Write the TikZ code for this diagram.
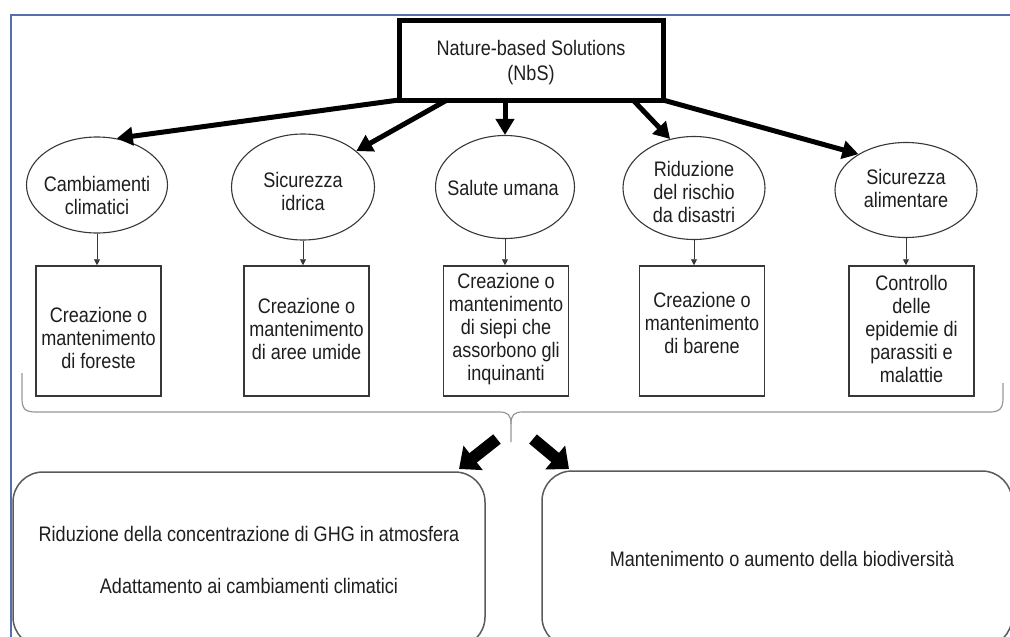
\documentclass[tikz,border=0pt]{standalone}
\usepackage{fontspec}
\setmainfont{Liberation Sans}[FakeStretch=0.86]
\usetikzlibrary{arrows.meta,shapes.geometric}

\definecolor{frameblue}{RGB}{84,110,176}
\definecolor{inkgray}{RGB}{55,55,55}
\definecolor{boxgray}{RGB}{90,90,90}
\definecolor{bracegray}{RGB}{150,150,150}
\definecolor{txtcol}{RGB}{30,30,30}

\begin{document}
\begin{tikzpicture}[x=1pt,y=-1pt,
  every node/.style={font=\fontsize{21}{23}\selectfont, text=txtcol},
  rootbox/.style={draw=black, line width=5pt, minimum width=264pt, minimum height=80pt,
    align=center, inner sep=0pt, outer sep=0pt},
  topic/.style={ellipse, draw=inkgray, line width=1.1pt, minimum width=141pt,
    minimum height=100pt, inner sep=0pt},
  actionbox/.style={draw=inkgray, line width=1.5pt, minimum width=125pt,
    minimum height=130pt, inner sep=0pt},
  caption/.style={align=center, inner sep=0pt},
  outcome/.style={draw=boxgray, line width=1.5pt, rounded corners=30pt,
    align=center, inner sep=0pt},
  bigarrow/.style={draw=black, line width=5pt, -{Triangle[width=18pt,length=16pt]}},
  smallarrow/.style={draw=inkgray, line width=0.9pt, -{Triangle[width=6pt,length=6pt]}},
  blockarrow/.style={draw=black, line width=12pt, -{Triangle[width=30pt,length=18pt]}}
]
\useasboundingbox (0,0) rectangle (1010,637);

% root node
\node[rootbox] (root) at (531,60) {};
\node[caption] (roott) at (531,63) {Nature-based Solutions\\[2pt](NbS)};

% benefit areas
\node[topic, minimum height=96pt] (e1) at (97,185) {};
\node[topic, minimum width=143pt, minimum height=106pt] (e2) at (303,187) {};
\node[topic, minimum width=139pt, minimum height=103pt] (e3) at (505,187) {};
\node[topic, minimum width=142pt, minimum height=103pt] (e4) at (694,188) {};
\node[topic, minimum width=142pt, minimum height=95pt] (e5) at (906,190) {};

\node[caption] (e1t) at (97,195.5) {Cambiamenti\\climatici};
\node[caption] (e2t) at (303,191.5) {Sicurezza\\idrica};
\node[caption] (e3t) at (503,188) {Salute umana};
\node[caption] (e4t) at (694,192) {Riduzione\\del rischio\\da disastri};
\node[caption] (e5t) at (906,188) {Sicurezza\\alimentare};

% actions
\node[actionbox] (r1) at (98.5,331) {};
\node[actionbox] (r2) at (306.5,331) {};
\node[actionbox] (r3) at (506,331) {};
\node[actionbox] (r4) at (702,331) {};
\node[actionbox] (r5) at (911.5,331) {};

\node[caption] (r1t) at (98.5,338) {Creazione o\\mantenimento\\di foreste};
\node[caption] (r2t) at (306.5,329) {Creazione o\\mantenimento\\di aree umide};
\node[caption] (r3t) at (506,329) {Creazione o\\mantenimento\\di siepi che\\assorbono gli\\inquinanti};
\node[caption] (r4t) at (702,323) {Creazione o\\mantenimento\\di barene};
\node[caption] (r5t) at (911.5,329) {Controllo\\delle\\epidemie di\\parassiti e\\malattie};

% outcomes
\node[outcome, minimum width=472pt, minimum height=175pt] (o1) at (249,559.5)
  {Riduzione della concentrazione di GHG in atmosfera\\[29pt]Adattamento ai cambiamenti climatici};
\node[outcome, minimum width=470pt, minimum height=176pt] (o2) at (777,559)
  {\hspace*{10pt}Mantenimento o aumento della biodiversità};

% connectors from the root
\draw[bigarrow] (root.south west) -- (e1.67);
\draw[bigarrow] ([xshift=48pt]root.south west) -- (e2.34);
\draw[bigarrow] (e3.north |- root.south) -- (e3.north);
\draw[bigarrow] ([xshift=-30pt]root.south east) -- (e4.116);
\draw[bigarrow] (root.south east) -- (e5.143);

% areas to actions
\foreach \i in {1,...,5}{
  \draw[smallarrow] (e\i.south) -- (e\i.south |- r\i.north);
}

% grouping brace under the actions
\draw[bracegray, line width=1.2pt]
  (22,373) -- (22,398) .. controls (22,409) and (25,412) .. (36,412)
  -- (499,412) .. controls (508,412) and (511,415) .. (511,424) -- (511,442);
\draw[bracegray, line width=1.2pt]
  (511,424) .. controls (511,415) and (514,412) .. (523,412)
  -- (990,412) .. controls (1000,412) and (1003,408) .. (1003,398) -- (1003,383);

% arrows to the outcomes
\coordinate (b1) at (497,439);
\coordinate (b2) at (533,439);
\coordinate (b1e) at (459,469);
\coordinate (b2e) at (569,469);
\draw[blockarrow] (b1) -- (b1e);
\draw[blockarrow] (b2) -- (b2e);

% page frame
\draw[frameblue, line width=2.6pt] (11,640) -- (11,15) -- (1012,15);
\end{tikzpicture}
\end{document}
